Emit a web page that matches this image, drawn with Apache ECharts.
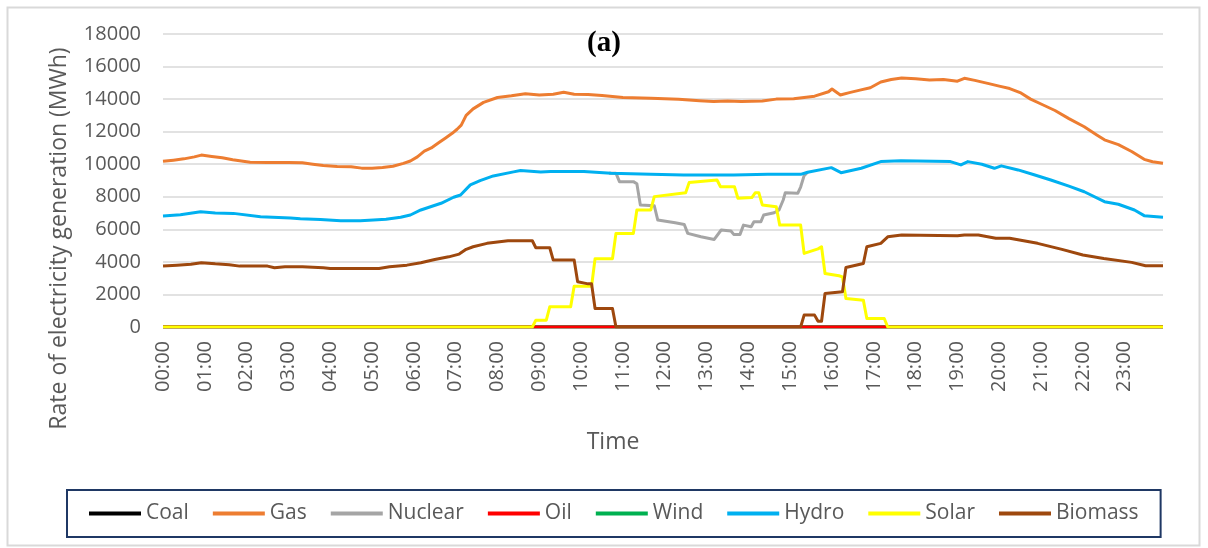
<!DOCTYPE html>
<html>
<head>
<meta charset="utf-8">
<script src="https://cdn.jsdelivr.net/npm/echarts@6/dist/echarts.min.js"></script>
<style>
html,body{margin:0;padding:0;background:#fff;}
#chart{width:1208px;height:548px;}
</style>
</head>
<body>
<div id="chart"></div>
<script>
// x values are minutes after midnight (00:00 .. 23:55)
const legendNames = ['Coal', 'Gas', 'Nuclear', 'Oil', 'Wind', 'Hydro', 'Solar', 'Biomass'];
const hourTicks = ['00:00','01:00','02:00','03:00','04:00','05:00','06:00','07:00','08:00','09:00','10:00','11:00',
  '12:00','13:00','14:00','15:00','16:00','17:00','18:00','19:00','20:00','21:00','22:00','23:00'];
const yTicks = [0, 2000, 4000, 6000, 8000, 10000, 12000, 14000, 16000, 18000];

const coal = [[0,0],[1435,0]];
const wind = [[0,0],[1435,0]];
const oil = [[0,0],[1435,0]];

const gas = [[0,10180],[15,10250],[30,10330],[45,10450],[55,10560],[70,10480],[85,10400],[100,10280],[115,10180],
  [125,10120],[150,10100],[180,10100],[200,10090],[215,10000],[230,9920],[250,9860],[270,9840],[285,9760],[300,9760],
  [315,9800],[330,9880],[345,10050],[355,10200],[365,10450],[375,10800],[385,11000],[395,11300],[405,11600],[415,11900],
  [422,12150],[428,12400],[435,13000],[445,13400],[460,13800],[480,14100],[500,14200],[520,14330],[540,14250],[560,14300],
  [575,14420],[590,14300],[610,14280],[630,14220],[660,14100],[700,14050],[740,13990],[770,13900],[790,13850],[810,13880],
  [830,13850],[860,13880],[880,14000],[905,14020],[935,14180],[955,14450],[960,14620],[972,14250],[985,14400],[1000,14550],
  [1015,14700],[1030,15050],[1045,15200],[1060,15300],[1080,15250],[1100,15180],[1120,15200],[1140,15100],[1150,15280],
  [1165,15150],[1185,14950],[1200,14800],[1215,14650],[1230,14400],[1245,14000],[1260,13700],[1280,13300],[1300,12800],
  [1322,12300],[1340,11800],[1351,11500],[1371,11200],[1390,10780],[1408,10300],[1420,10150],[1435,10060]];

const nuclear = [[640,9450],[650,9450],[655,8930],[675,8930],[680,8800],[685,7500],[705,7450],[710,6570],[735,6400],
  [748,6300],[753,5750],[772,5540],[791,5380],[801,5960],[815,5900],[819,5690],[828,5690],[833,6260],[844,6160],
  [848,6470],[858,6470],[862,6880],[877,7020],[884,7190],[890,7800],[893,8250],[911,8220],[915,8600],[920,9300],[925,9510]];

const hydro = [[0,6820],[25,6900],[54,7080],[75,7000],[101,6980],[140,6780],[183,6700],[197,6650],[226,6610],[255,6530],
  [283,6530],[302,6570],[320,6620],[341,6740],[355,6880],[370,7190],[385,7400],[399,7600],[417,7970],[427,8110],[441,8730],
  [455,8990],[474,9280],[503,9530],[513,9610],[542,9520],[556,9560],[604,9560],[643,9450],[700,9380],[747,9340],[819,9340],
  [868,9380],[915,9380],[925,9510],[959,9790],[973,9480],[1002,9750],[1030,10160],[1059,10220],[1130,10160],[1145,9960],
  [1155,10160],[1175,10000],[1193,9750],[1203,9900],[1227,9650],[1250,9350],[1274,9030],[1300,8650],[1322,8310],
  [1351,7700],[1371,7540],[1394,7190],[1408,6840],[1435,6740]];

const solar = [[0,0],[530,0],[535,420],[550,420],[555,1240],[585,1240],[590,2500],[615,2500],[620,4200],[645,4200],
  [650,5750],[675,5750],[680,7190],[700,7190],[705,8010],[750,8250],[755,8870],[795,9030],[800,8620],[820,8620],
  [825,7910],[845,7950],[850,8250],[855,8250],[860,7500],[880,7390],[885,6260],[915,6260],[920,4520],[940,4800],
  [945,4930],[950,3290],[970,3150],[975,3080],[980,1750],[1005,1650],[1010,520],[1035,520],[1040,0],[1435,0]];

const biomass = [[0,3740],[20,3800],[40,3850],[55,3950],[75,3880],[95,3830],[110,3740],[150,3740],[160,3640],[175,3700],
  [200,3700],[230,3640],[240,3600],[310,3600],[325,3700],[350,3800],[370,3950],[390,4150],[410,4310],[425,4480],
  [435,4770],[445,4930],[465,5140],[495,5300],[530,5300],[535,4870],[555,4870],[560,4110],[590,4110],[595,2780],
  [610,2650],[615,2650],[620,1140],[645,1140],[650,0],[915,0],[920,730],[935,730],[940,350],[945,350],[950,2060],
  [975,2160],[980,3660],[1005,3900],[1010,4930],[1030,5140],[1040,5540],[1060,5650],[1140,5600],[1150,5650],
  [1170,5650],[1195,5450],[1215,5450],[1255,5140],[1290,4770],[1320,4420],[1350,4210],[1390,3970],[1410,3760],[1435,3760]];

const colors = {Coal:'#000000', Gas:'#ED7D31', Nuclear:'#A5A5A5', Oil:'#FF0000', Wind:'#00B050',
  Hydro:'#00B0F0', Solar:'#FFFF00', Biomass:'#9E480E'};
const drawOrder = [['Coal',coal],['Wind',wind],['Oil',oil],['Gas',gas],['Nuclear',nuclear],['Hydro',hydro],['Solar',solar],['Biomass',biomass]];

const FONT = '"Open Sans", "Liberation Sans", sans-serif';
const chart = echarts.init(document.getElementById('chart'), null, {renderer:'canvas'});
chart.setOption({
  animation: false,
  backgroundColor: '#ffffff',
  title: {
    text: '(a)', left: 'center', top: 24,
    textStyle: {fontFamily: '"Liberation Serif", "Times New Roman", serif', fontWeight: 'bold', fontSize: 29, color: '#000'}
  },
  graphic: [{
    type: 'rect', left: 5, top: 5, silent: true,
    shape: {width: 1192, height: 538},
    style: {fill: 'none', stroke: '#d9d9d9', lineWidth: 2}
  }],
  legend: {
    data: legendNames,
    left: 67, top: 490,
    padding: [13, 22],
    borderColor: '#1F3864', borderWidth: 2,
    icon: 'rect', itemWidth: 52, itemHeight: 4, itemGap: 24,
    textStyle: {fontFamily: FONT, fontSize: 21, color: '#595959'}
  },
  grid: {left: 163, right: 45, top: 34, bottom: 221},
  xAxis: {
    type: 'value', min: 0, max: 1435, interval: 60,
    name: 'Time', nameLocation: 'middle', nameGap: 104,
    nameTextStyle: {fontFamily: FONT, fontSize: 23, color: '#595959', padding: [0, 100, 0, 0]},
    axisLine: {show: false}, axisTick: {show: false}, splitLine: {show: false},
    axisLabel: {
      rotate: 90, margin: 14, fontFamily: FONT, fontSize: 20, color: '#595959',
      formatter: function (v) { return (v % 60 === 0) ? (hourTicks[v / 60] || '') : ''; }
    }
  },
  yAxis: {
    type: 'value', min: yTicks[0], max: yTicks[yTicks.length - 1], interval: 2000,
    name: 'Rate of electricity generation (MWh)', nameLocation: 'middle', nameGap: 92,
    nameTextStyle: {fontFamily: FONT, fontSize: 23, color: '#595959', padding: [0, 116, 0, 0]},
    axisLine: {show: false}, axisTick: {show: false},
    splitLine: {lineStyle: {color: '#d9d9d9', width: 1.5}},
    axisLabel: {margin: 22, fontFamily: FONT, fontSize: 20, color: '#595959',
      formatter: function (v) { return String(v); }}
  },
  series: drawOrder.map(function (d) {
    return {
      name: d[0], type: 'line', data: d[1], symbol: 'none', showSymbol: false,
      color: colors[d[0]],
      lineStyle: {width: 3, color: colors[d[0]], join: 'round'}
    };
  })
});
</script>
</body>
</html>
